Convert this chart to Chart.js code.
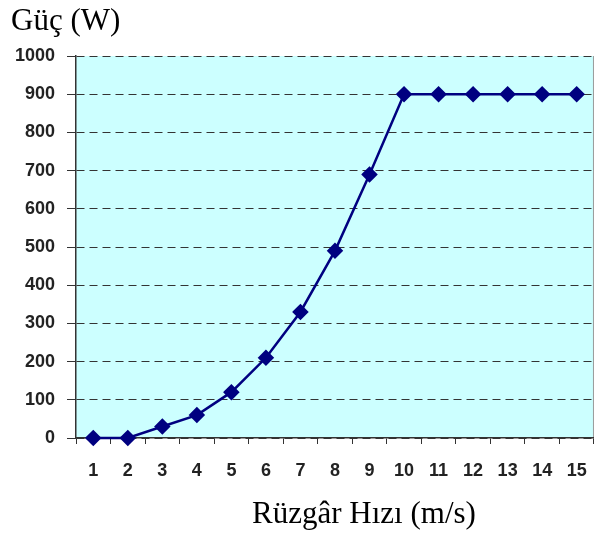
<!DOCTYPE html>
<html>
<head>
<meta charset="utf-8">
<script src="https://cdn.jsdelivr.net/npm/chart.js@4/dist/chart.umd.min.js"></script>
<style>
html,body{margin:0;padding:0;background:#fff;}
#wrap{width:603px;height:537px;position:relative;}
</style>
</head>
<body>
<div id="wrap"><canvas id="c" width="603" height="537"></canvas></div>
<script>
const categories = ["1","2","3","4","5","6","7","8","9","10","11","12","13","14","15"];
const powerValues = [0,0,30,60,120,210,330,490,690,900,900,900,900,900,900];
const yTicks = [0,100,200,300,400,500,600,700,800,900,1000];
const yTitle = "Güç (W)";
const xTitle = "Rüzgâr Hızı (m/s)";

const bgPlugin = {
  id: 'bg',
  beforeDraw(chart) {
    const {ctx, chartArea: a} = chart;
    ctx.save();
    ctx.fillStyle = '#ccffff';
    ctx.fillRect(a.left, a.top, a.right - a.left, a.bottom - a.top);
    ctx.strokeStyle = '#9a9a9a';
    ctx.lineWidth = 1;
    ctx.beginPath();
    ctx.moveTo(a.right - 0.5, a.top);
    ctx.lineTo(a.right - 0.5, a.bottom);
    ctx.stroke();
    ctx.restore();
  },
  afterDraw(chart) {
    const {ctx} = chart;
    ctx.save();
    ctx.fillStyle = '#000';
    ctx.font = '31px "Liberation Serif", "Times New Roman", serif';
    ctx.textBaseline = 'alphabetic';
    ctx.textAlign = 'left';
    ctx.fillText(yTitle, 11, 30);
    ctx.textAlign = 'center';
    ctx.fillText(xTitle, 364, 523);
    ctx.restore();
  }
};

new Chart(document.getElementById('c'), {
  type: 'line',
  data: {
    labels: categories,
    datasets: [{
      data: powerValues,
      borderColor: '#000080',
      backgroundColor: '#000080',
      borderWidth: 2.5,
      pointStyle: 'rectRot',
      pointRadius: 6.5,
      pointHoverRadius: 6.5,
      pointBackgroundColor: '#000080',
      pointBorderColor: '#000080',
      tension: 0,
      fill: false,
      clip: false
    }]
  },
  options: {
    responsive: false,
    animation: false,
    events: [],
    layout: { padding: { left: 0, top: 56, right: 3, bottom: 59 } },
    plugins: { legend: { display: false }, tooltip: { enabled: false } },
    scales: {
      x: {
        type: 'category',
        offset: true,
        grid: {
          offset: true,
          drawOnChartArea: false,
          drawTicks: true,
          tickLength: 6,
          color: '#333',
          tickColor: '#333'
        },
        border: { display: true, color: '#333', width: 1.5 },
        ticks: {
          padding: 16,
          color: '#222',
          font: { family: '"Liberation Sans", Arial, sans-serif', size: 18, weight: 'bold' },
          maxRotation: 0,
          autoSkip: false
        },
        afterFit(scale) { scale.height = 40; }
      },
      y: {
        min: 0,
        max: 1000,
        afterBuildTicks(scale) { scale.ticks = yTicks.map(v => ({value: v})); },
        grid: {
          color: '#333',
          lineWidth: 1,
          drawTicks: true,
          tickLength: 9,
          tickColor: '#333',
          tickBorderDash: []
        },
        border: { display: true, color: '#333', width: 1.5, dash: [8, 5] },
        ticks: {
          padding: 12,
          color: '#222',
          font: { family: '"Liberation Sans", Arial, sans-serif', size: 18, weight: 'bold' },
          callback: (v) => String(v)
        },
        afterFit(scale) { scale.width = 76; }
      }
    }
  },
  plugins: [bgPlugin]
});
</script>
</body>
</html>
